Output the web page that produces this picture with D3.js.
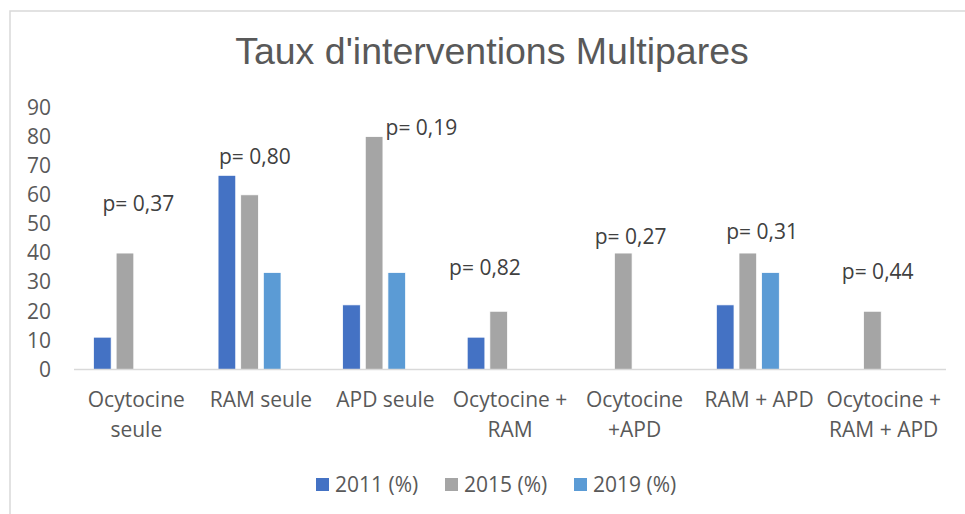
<!DOCTYPE html>
<html>
<head>
<meta charset="utf-8">
<script src="https://cdn.jsdelivr.net/npm/d3@7"></script>
<style>
  html, body { margin: 0; padding: 0; background: #ffffff; }
  svg { display: block; }
</style>
</head>
<body>
<svg id="chart" width="965" height="514"></svg>
<script>
// ---- data ----
const title = "Taux d'interventions Multipares";
const categories = ["Ocytocine seule", "RAM seule", "APD seule", "Ocytocine + RAM", "Ocytocine +APD", "RAM + APD", "Ocytocine + RAM + APD"];
const seriesNames = ["2011 (%)", "2015 (%)", "2019 (%)"];
const values2011 = [11.1, 66.7, 22.2, 11.1, null, 22.2, null];
const values2015 = [40, 60, 80, 20, 40, 40, 20];
const values2019 = [null, 33.3, 33.3, null, null, 33.3, null];
const seriesColors = ["#4472C4", "#A5A5A5", "#5B9BD5"];
const yTicks = [0, 10, 20, 30, 40, 50, 60, 70, 80, 90];
const pLabels = ["p= 0,37", "p= 0,80", "p= 0,19", "p= 0,82", "p= 0,27", "p= 0,31", "p= 0,44"];
// annotation anchor (value on the y axis) and horizontal offset from category centre
const pLabelLevel = [57.1, 73.0, 83.1, 35.1, 45.5, 47.2, 33.7];
const pLabelDx = [2, -6, 36, -25, -4, 3, -6];

(function () {
const series = [values2011, values2015, values2019];

// ---- layout ----
const svg = d3.select("#chart");
const mLeft = 74, mRight = 946, mTop = 107.5, mBottom = 369.5;
const font = "'Open Sans', 'Noto Sans', sans-serif";
const fs = 21;

// frame
svg.append("rect")
  .attr("x", 10).attr("y", 11)
  .attr("width", 1000).attr("height", 600)
  .attr("fill", "none").attr("stroke", "#d9d9d9").attr("stroke-width", 1.5);

// title
svg.append("text")
  .attr("x", 492).attr("y", 64)
  .attr("text-anchor", "middle")
  .attr("font-family", "'Liberation Sans', Arial, sans-serif")
  .attr("font-size", 37.5)
  .attr("fill", "#595959")
  .text(title);

const x0 = d3.scaleBand().domain(categories).range([mLeft, mRight]).padding(0);
// four slots per group (Excel keeps room for a hidden fourth series)
const slots = ["s0", "s1", "s2", "s3"];
const x1 = d3.scaleBand().domain(slots)
  .range([19.5, x0.bandwidth() - 19.5]).paddingInner(0.22).paddingOuter(0);
const y = d3.scaleLinear().domain([0, 90]).range([mBottom, mTop]);

// y axis labels
const yAxis = d3.axisLeft(y).tickValues(yTicks).tickSize(0).tickPadding(0).tickFormat(d3.format("d"));
const gy = svg.append("g").attr("transform", "translate(51,0)").call(yAxis);
gy.select(".domain").remove();
gy.selectAll("text")
  .attr("font-family", font).attr("font-size", fs).attr("fill", "#595959");

// bars
const barData = [];
series.forEach((vals, si) => {
  vals.forEach((v, ci) => {
    if (v !== null && v !== undefined) barData.push({ cat: categories[ci], s: si, v: v });
  });
});
svg.append("g").selectAll("rect")
  .data(barData)
  .join("rect")
  .attr("x", d => x0(d.cat) + x1(slots[d.s]))
  .attr("width", x1.bandwidth())
  .attr("y", d => y(d.v))
  .attr("height", d => y(0) - y(d.v))
  .attr("fill", d => seriesColors[d.s])
  .attr("stroke", "#ffffff").attr("stroke-width", 0.75);

// x axis line
svg.append("line")
  .attr("x1", mLeft).attr("x2", mRight)
  .attr("y1", y(0)).attr("y2", y(0))
  .attr("stroke", "#d9d9d9").attr("stroke-width", 1.5);

// x category labels with wrapping
const xAxis = d3.axisBottom(x0).tickSize(0).tickPadding(0);
const gx = svg.append("g").attr("transform", `translate(0,${y(0)})`).call(xAxis);
gx.select(".domain").remove();
gx.selectAll("text")
  .attr("font-family", font).attr("font-size", fs).attr("fill", "#595959")
  .attr("dy", null).attr("y", 37)
  .each(function (d) {
    const t = d3.select(this);
    const words = d.split(" ");
    const maxW = x0.bandwidth() - 2;
    t.text(null);
    const lines = [];
    let line = [];
    const tmp = t.append("tspan");
    words.forEach(w => {
      line.push(w);
      tmp.text(line.join(" "));
      if (tmp.node().getComputedTextLength() > maxW && line.length > 1) {
        line.pop();
        lines.push(line.join(" "));
        line = [w];
      }
    });
    lines.push(line.join(" "));
    tmp.remove();
    lines.forEach((l, i) => {
      t.append("tspan").attr("x", 0).attr("y", 37 + i * 30).text(l);
    });
  });

// p-value annotations
svg.append("g").selectAll("text")
  .data(pLabels)
  .join("text")
  .attr("x", (d, i) => x0(categories[i]) + x0.bandwidth() / 2 + pLabelDx[i])
  .attr("y", (d, i) => y(pLabelLevel[i]))
  .attr("dy", "0.35em")
  .attr("text-anchor", "middle")
  .attr("font-family", font).attr("font-size", fs).attr("fill", "#404040")
  .text(d => d);

// legend
const legendX = [316, 445, 574];
const lg = svg.append("g").selectAll("g")
  .data(seriesNames)
  .join("g")
  .attr("transform", (d, i) => `translate(${legendX[i]},478)`);
lg.append("rect")
  .attr("width", 13).attr("height", 13)
  .attr("fill", (d, i) => seriesColors[i]);
lg.append("text")
  .attr("x", 19).attr("y", 6.5).attr("dy", "0.35em")
  .attr("font-family", font).attr("font-size", fs).attr("fill", "#595959")
  .text(d => d);
})();
</script>
</body>
</html>
